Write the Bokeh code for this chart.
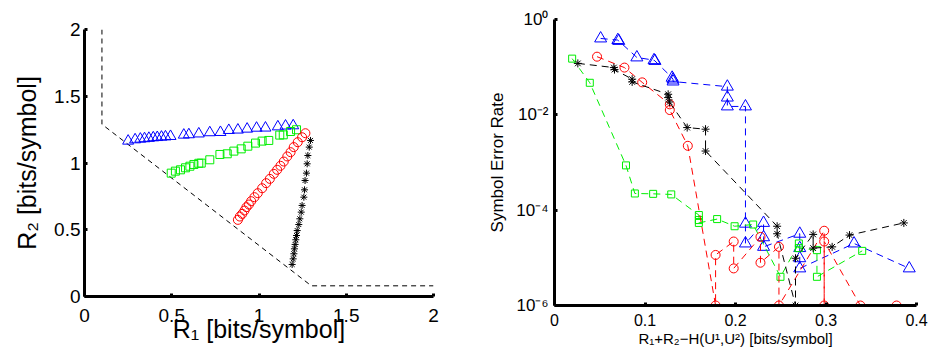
from bokeh.plotting import figure
from bokeh.layouts import row, column
from bokeh.models import Range1d, FixedTicker, CustomJSTickFormatter
from bokeh.embed import file_html
from bokeh.resources import INLINE

FONT = "Liberation Sans"

# ---------------- left panel: rate pairs ----------------
bound_r1 = [0.1, 0.1, 1.30, 2.0]
bound_r2 = [2.0, 1.29, 0.08, 0.08]

tri_r1 = [0.25, 0.29, 0.32, 0.344, 0.369, 0.394, 0.417, 0.441, 0.464, 0.493, 0.569, 0.598,
          0.655, 0.718, 0.779, 0.827, 0.879, 0.932, 0.986, 1.037, 1.108, 1.152, 1.196]
tri_r2 = [1.165, 1.175, 1.18, 1.183, 1.186, 1.19, 1.192, 1.195, 1.197, 1.2, 1.21, 1.213,
          1.219, 1.228, 1.23, 1.245, 1.248, 1.255, 1.262, 1.263, 1.272, 1.278, 1.28]

sq_r1 = [0.497, 0.521, 0.550, 0.579, 0.604, 0.627, 0.655, 0.669, 0.718, 0.776, 0.818,
         0.856, 0.898, 0.936, 0.980, 1.018, 1.056, 1.119, 1.139, 1.181, 1.215]
sq_r2 = [0.924, 0.939, 0.949, 0.964, 0.976, 0.989, 0.998, 0.999, 1.024, 1.064, 1.069,
         1.089, 1.106, 1.126, 1.149, 1.164, 1.169, 1.209, 1.211, 1.236, 1.249]

circ_r1 = [0.879, 0.890, 0.904, 0.917, 0.928, 0.942, 0.955, 0.974, 0.993, 1.018, 1.041,
           1.062, 1.085, 1.104, 1.123, 1.142, 1.162, 1.181, 1.199, 1.222, 1.247, 1.266]
circ_r2 = [0.574, 0.599, 0.619, 0.644, 0.669, 0.689, 0.714, 0.744, 0.774, 0.811, 0.849,
           0.881, 0.919, 0.949, 0.979, 1.011, 1.049, 1.081, 1.119, 1.156, 1.193, 1.223]

ast_r1 = [1.190, 1.196, 1.200, 1.203, 1.207, 1.211, 1.215, 1.219, 1.228, 1.234, 1.242,
          1.247, 1.257, 1.261, 1.264, 1.272, 1.276, 1.280, 1.288, 1.295]
ast_r2 = [0.240, 0.282, 0.320, 0.357, 0.390, 0.425, 0.457, 0.494, 0.539, 0.582, 0.632,
          0.682, 0.744, 0.799, 0.869, 0.924, 0.994, 1.056, 1.119, 1.169]

left_ticks = [0, 0.5, 1, 1.5, 2]

# ---------------- right panel: symbol error rate ----------------
tri_x = [0.051, 0.070, 0.071, 0.091, 0.110, 0.111, 0.130, 0.131, 0.131, 0.191, 0.191, 0.191,
         0.211, 0.211, 0.211, 0.231, 0.231, 0.231, 0.271, 0.271, 0.271, 0.271, 0.331, 0.392]
tri_ser = [0.40, 0.37, 0.355, 0.16, 0.14, 0.135, 0.060, 0.055, 0.050, 0.039, 0.023, 0.015,
           0.015, 5.2e-5, 2.0e-5, 5.4e-5, 2.7e-5, 1.7e-5, 3.2e-5, 1.6e-5, 9.8e-6, 6.0e-6,
           2.0e-5, 6.0e-6]

circ_x = [0.047, 0.0773, 0.0969, 0.1274, 0.1274, 0.1473, 0.178, 0.178, 0.198, 0.198,
          0.2276, 0.2276, 0.248, 0.248, 0.298, 0.298, 0.298, 0.338, 0.378]
circ_ser = [0.166, 0.098, 0.048, 0.0166, 0.0126, 0.00224, 1e-6, 1.15e-5, 2.2e-5, 6.0e-6,
            2.75e-5, 7.9e-6, 1.7e-5, 1e-6, 3.7e-5, 1e-6, 2.2e-5, 1e-6, 1e-6]

sq_x = [0.0195, 0.039, 0.079, 0.0888, 0.109, 0.129, 0.1595, 0.1595, 0.1595, 0.1797,
        0.199, 0.2195, 0.2497, 0.270, 0.270, 0.290, 0.290, 0.340]
sq_ser = [0.151, 0.047, 8.7e-4, 2.24e-4, 2.2e-4, 2.14e-4, 7.9e-5, 6.2e-5, 5.4e-5, 6.5e-5,
          4.6e-5, 5.0e-5, 4.0e-6, 2.0e-5, 1.6e-5, 1.45e-5, 4.0e-6, 1.4e-5]

ast_x = [0.0258, 0.0656, 0.0663, 0.0858, 0.0858, 0.1256, 0.1256, 0.127, 0.1466, 0.1669,
         0.1669, 0.246, 0.246, 0.2663, 0.2663, 0.2858, 0.2858, 0.3068, 0.326, 0.386]
ast_ser = [0.12, 0.098, 0.089, 0.056, 0.049, 0.027, 0.023, 0.0186, 0.0054, 0.0050,
           0.00174, 4.6e-5, 3.2e-5, 1e-6, 9.8e-6, 3.1e-5, 1.6e-5, 1.7e-5, 3.0e-5, 5.4e-5]

right_xticks = [0, 0.1, 0.2, 0.3, 0.4]
right_yticks = [1e-6, 1e-4, 1e-2, 1]

BLUE, RED, GREEN, BLACK = "#0000ff", "#ff0000", "#00ee00", "#000000"


def style_axes(p, tick_size, label_size):
    p.xgrid.visible = False
    p.ygrid.visible = False
    p.outline_line_color = None
    p.background_fill_color = "white"
    p.border_fill_color = "white"
    for ax in (p.xaxis, p.yaxis):
        ax.axis_line_width = 3
        ax.axis_line_color = "black"
        ax.major_tick_in = 3
        ax.major_tick_out = 0
        ax.major_tick_line_width = 3
        ax.minor_tick_line_color = None
        ax.major_label_text_font = FONT
        ax.major_label_text_font_size = tick_size
        ax.major_label_text_color = "black"
        ax.axis_label_text_font = FONT
        ax.axis_label_text_font_size = label_size
        ax.axis_label_text_font_style = "normal"
        ax.axis_label_text_color = "black"


# ---- left figure ----
p1 = figure(width=474, height=350, x_range=Range1d(0, 2), y_range=Range1d(0, 2),
            min_border_left=84, min_border_right=41, min_border_top=29, min_border_bottom=54,
            output_backend="svg", toolbar_location=None)
style_axes(p1, "19px", "25px")
num_fmt = CustomJSTickFormatter(code="return tick.toString();")
p1.xaxis.ticker = FixedTicker(ticks=left_ticks)
p1.yaxis.ticker = FixedTicker(ticks=left_ticks)
p1.xaxis.formatter = num_fmt
p1.yaxis.formatter = num_fmt
p1.xaxis.axis_label = "R\u2081 [bits/symbol]"
p1.yaxis.axis_label = "R\u2082 [bits/symbol]"
p1.xaxis.major_label_standoff = 12
p1.yaxis.major_label_standoff = 4
p1.xaxis.axis_label_standoff = -10
p1.yaxis.axis_label_standoff = 10

p1.line(bound_r1, bound_r2, line_color="black", line_dash="5 4", line_width=1)
p1.scatter(tri_r1, tri_r2, marker="triangle", size=11, fill_color=None, line_color=BLUE, line_width=1)
p1.scatter(sq_r1, sq_r2, marker="square", size=8, fill_color=None, line_color=GREEN, line_width=1)
p1.scatter(circ_r1, circ_r2, marker="circle", size=9, fill_color=None, line_color=RED, line_width=1)
p1.scatter(ast_r1, ast_r2, marker="asterisk", size=7, line_color=BLACK, line_width=1)

# ---- right figure ----
p2 = figure(width=455, height=350, x_range=Range1d(0, 0.4), y_range=Range1d(1e-6, 1),
            y_axis_type="log",
            min_border_left=80, min_border_right=13, min_border_top=19, min_border_bottom=45,
            output_backend="svg", toolbar_location=None)
style_axes(p2, "17px", "17px")
p2.xaxis.major_label_text_font_size = "16px"
p2.xaxis.axis_label_text_font_size = "15px"
p2.xaxis.ticker = FixedTicker(ticks=right_xticks)
p2.xaxis.formatter = num_fmt
p2.yaxis.ticker = FixedTicker(ticks=right_yticks)
p2.yaxis.formatter = CustomJSTickFormatter(code="""
const sup = {'0':'\u2070','1':'\u00b9','2':'\u00b2','3':'\u00b3','4':'\u2074','5':'\u2075',
             '6':'\u2076','7':'\u2077','8':'\u2078','9':'\u2079','-':'\u207b'};
const e = Math.round(Math.log10(tick)).toString();
return '10' + e.split('').map(c => sup[c]).join('');
""")
p2.xaxis.axis_label = "R\u2081+R\u2082\u2212H(U\u00b9,U\u00b2) [bits/symbol]"
p2.yaxis.axis_label = "Symbol Error Rate"
p2.xaxis.major_label_standoff = 8
p2.yaxis.major_label_standoff = 6
p2.xaxis.axis_label_standoff = 1
p2.yaxis.axis_label_standoff = 6

dash = "7 5"
p2.line(tri_x, tri_ser, line_color=BLUE, line_dash=dash, line_width=1)
p2.scatter(tri_x, tri_ser, marker="triangle", size=12, fill_color=None, line_color=BLUE, line_width=1)
p2.line(sq_x, sq_ser, line_color=GREEN, line_dash=dash, line_width=1)
p2.scatter(sq_x, sq_ser, marker="square", size=7, fill_color=None, line_color=GREEN, line_width=1)
p2.line(circ_x, circ_ser, line_color=RED, line_dash=dash, line_width=1)
p2.scatter(circ_x, circ_ser, marker="circle", size=9, fill_color=None, line_color=RED, line_width=1)
p2.line(ast_x, ast_ser, line_color=BLACK, line_dash=dash, line_width=1)
p2.scatter(ast_x, ast_ser, marker="asterisk", size=8, line_color=BLACK, line_width=1)

# wrap each figure so their frames are not forced into alignment
layout = row(column(p1), column(p2), spacing=0)
open("out.html", "w").write(file_html(layout, INLINE))
